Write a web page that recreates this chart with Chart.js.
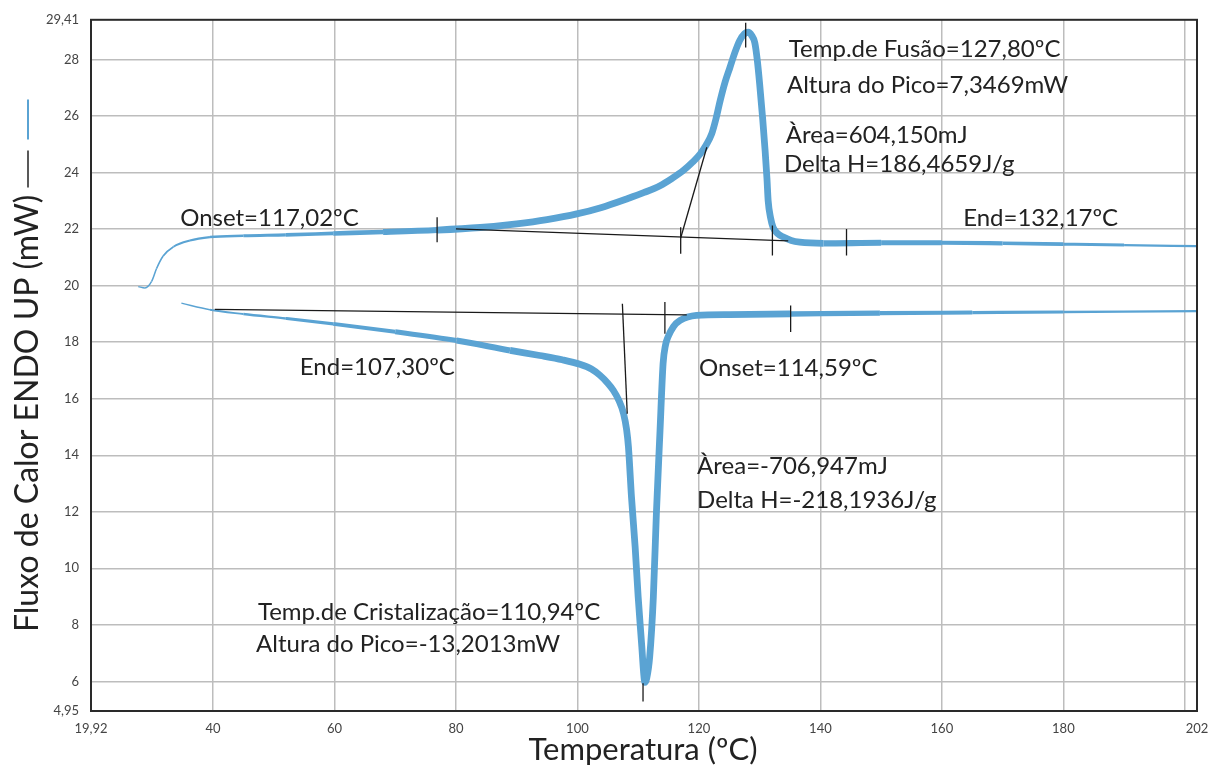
<!DOCTYPE html>
<html>
<head>
<meta charset="utf-8">
<script src="https://cdn.jsdelivr.net/npm/chart.js"></script>
<style>
  html, body { margin: 0; padding: 0; background: #fff; }
</style>
</head>
<body>
<canvas id="dsc" width="1208" height="767"></canvas>
<script>
// curva de aquecimento (fusão)
const heatT = [27.7, 28.8, 29.9, 30.7, 31.8, 33.5, 36.2, 39.5, 45, 52, 59.8, 68, 76.9, 84, 90, 95, 99.9, 104, 108.1, 111, 113.6, 115.6, 117.4, 119, 120.2, 121.2, 122.1, 122.8, 123.5, 124.3, 125.1, 126.0, 126.7, 127.5, 128.1, 128.7, 129.2, 129.6, 130.0, 130.5, 130.9, 131.2, 131.4, 131.8, 132.2, 133.0, 133.9, 135.2, 136.6, 140.5, 150, 160, 170, 180, 190, 202];
const heatV = [19.97, 19.92, 20.15, 20.6, 21.05, 21.38, 21.6, 21.72, 21.77, 21.8, 21.85, 21.9, 21.97, 22.06, 22.19, 22.34, 22.54, 22.77, 23.07, 23.3, 23.54, 23.8, 24.07, 24.38, 24.66, 24.98, 25.37, 25.9, 26.55, 27.2, 27.72, 28.3, 28.67, 28.92, 28.97, 28.85, 28.6, 28.0, 27.14, 25.9, 24.78, 23.8, 23.01, 22.4, 22.07, 21.84, 21.72, 21.6, 21.54, 21.5, 21.52, 21.52, 21.5, 21.47, 21.44, 21.4];

// curva de resfriamento (cristalização)
const coolT = [34.8, 39.5, 45, 52, 59.8, 70, 80.1, 88.9, 93.8, 97.5, 100.4, 102.3, 103.7, 105.0, 105.9, 106.8, 107.6, 108.1, 108.4, 108.9, 109.5, 110.0, 110.6, 110.9, 111.1, 111.4, 111.9, 112.5, 113.0, 113.6, 114.1, 114.5, 114.9, 115.8, 116.9, 119.6, 125, 135.0, 149.8, 165, 180, 202];
const coolV = [19.38, 19.15, 19.0, 18.84, 18.65, 18.37, 18.06, 17.71, 17.53, 17.38, 17.22, 17.05, 16.83, 16.55, 16.3, 15.95, 15.47, 14.9, 14.29, 12.52, 10.76, 8.99, 7.22, 6.3, 5.96, 6.1, 6.87, 8.99, 11.94, 14.88, 17.24, 17.9, 18.18, 18.55, 18.77, 18.95, 18.98, 19.0, 19.03, 19.05, 19.07, 19.1];

// linhas de base e tangentes [T1, T2], [V1, V2]
const baseUpT = [80.0, 134.7], baseUpV = [22.01, 21.59];
const tanUpT = [117.0, 121.3], tanUpV = [21.69, 24.9];
const baseLowT = [40.3, 118.0], baseLowV = [19.16, 18.97];
const tanLowT = [107.4, 108.2], tanLowV = [19.36, 15.47];

// marcas verticais: temperatura, valor de cima, valor de baixo
const markT = [76.9, 117.0, 132.1, 144.3, 127.7, 114.4, 135.1, 110.8];
const markTop = [22.42, 22.07, 22.13, 22.01, 29.31, 19.42, 19.3, 5.93];
const markBot = [21.54, 21.13, 21.07, 21.07, 28.43, 18.3, 18.36, 5.29];

// textos das anotações
const notes = ['Temp.de Fusão=127,80ºC', 'Altura do Pico=7,3469mW', 'Àrea=604,150mJ', 'Delta H=186,4659J/g',
  'Onset=117,02ºC', 'End=132,17ºC', 'End=107,30ºC', 'Onset=114,59ºC',
  'Àrea=-706,947mJ', 'Delta H=-218,1936J/g', 'Temp.de Cristalização=110,94ºC', 'Altura do Pico=-13,2013mW'];
const noteT = [134.8, 134.5, 134.3, 134.0, 34.6, 163.5, 54.3, 120.0, 119.7, 119.7, 47.4, 47.1];
const noteV = [28.35, 27.08, 25.34, 24.28, 22.38, 22.38, 17.11, 17.07, 13.61, 12.41, 8.45, 7.32];

// eixos
const xTicks = [19.92, 40, 60, 80, 100, 120, 140, 160, 180, 200, 202];
const yTicks = [4.95, 6, 8, 10, 12, 14, 16, 18, 20, 22, 24, 26, 28, 29.41];

const BLUE = '#5aa3d3';

// espessura da linha ao longo da curva (estilo)
const heatWT = [27, 34, 45, 60, 78, 140, 160, 185, 202];
const heatWW = [1.3, 1.8, 2.8, 4, 6.8, 6.8, 4.5, 3, 1.8];
const coolWT = [34, 42, 55, 70, 90, 130, 150, 175, 202];
const coolWW = [1, 1.8, 3, 4.5, 6.8, 6.8, 4.5, 3, 1.8];

function interp(xs, ys, x) {
  if (x <= xs[0]) return ys[0];
  for (let i = 1; i < xs.length; i++) {
    if (x <= xs[i]) {
      const f = (x - xs[i - 1]) / (xs[i] - xs[i - 1]);
      return ys[i - 1] + f * (ys[i] - ys[i - 1]);
    }
  }
  return ys[ys.length - 1];
}

function toPoints(ts, vs) {
  return ts.map((t, i) => ({ x: t, y: vs[i] }));
}

function blackLine(ts, vs) {
  return { data: toPoints(ts, vs), borderColor: '#1a1a1a', borderWidth: 1.3, pointRadius: 0, order: 0 };
}

const datasets = [
  blackLine(baseUpT, baseUpV),
  blackLine(tanUpT, tanUpV),
  blackLine(baseLowT, baseLowV),
  blackLine(tanLowT, tanLowV)
];
markT.forEach((t, i) => datasets.push(blackLine([t, t], [markTop[i], markBot[i]])));

datasets.push({
  data: toPoints(heatT, heatV), borderColor: BLUE, pointRadius: 0, order: 1,
  cubicInterpolationMode: 'monotone', borderCapStyle: 'butt', borderJoinStyle: 'round',
  segment: { borderWidth: c => interp(heatWT, heatWW, (c.p0.parsed.x + c.p1.parsed.x) / 2) }
});
datasets.push({
  data: toPoints(coolT, coolV), borderColor: BLUE, pointRadius: 0, order: 1,
  cubicInterpolationMode: 'monotone', borderCapStyle: 'butt', borderJoinStyle: 'round',
  segment: { borderWidth: c => interp(coolWT, coolWW, (c.p0.parsed.x + c.p1.parsed.x) / 2) }
});

function fmt(v) {
  return String(v).replace('.', ',');
}

const textPlugin = {
  id: 'textos',
  afterDraw(chart) {
    const ctx = chart.ctx;
    const a = chart.chartArea;
    const xs = chart.scales.x, ys = chart.scales.y;

    // moldura
    ctx.save();
    ctx.strokeStyle = '#2a2a2a';
    ctx.lineWidth = 2;
    ctx.strokeRect(a.left, a.top, a.right - a.left, a.bottom - a.top);

    // anotações
    ctx.fillStyle = '#222';
    ctx.font = '24px Lato';
    ctx.textBaseline = 'middle';
    ctx.textAlign = 'left';
    notes.forEach((n, i) => ctx.fillText(n, xs.getPixelForValue(noteT[i]), ys.getPixelForValue(noteV[i])));

    // título eixo x
    ctx.font = '31px Lato';
    ctx.textAlign = 'center';
    ctx.fillText('Temperatura (ºC)', 643, 750);

    // título eixo y com marcas da legenda
    const title = 'Fluxo de Calor ENDO UP (mW)';
    ctx.translate(28, 632);
    ctx.rotate(-Math.PI / 2);
    ctx.font = '32px Lato';
    ctx.textAlign = 'left';
    ctx.fillText(title, 0, 0);
    const w = ctx.measureText(title).width;
    ctx.strokeStyle = '#222';
    ctx.lineWidth = 1.5;
    ctx.beginPath();
    ctx.moveTo(w + 7, 0);
    ctx.lineTo(w + 44, 0);
    ctx.stroke();
    ctx.strokeStyle = BLUE;
    ctx.lineWidth = 2;
    ctx.beginPath();
    ctx.moveTo(w + 55, 0);
    ctx.lineTo(w + 95, 0);
    ctx.stroke();
    ctx.restore();
  }
};

new Chart(document.getElementById('dsc'), {
  type: 'line',
  data: { datasets: datasets },
  options: {
    responsive: false,
    animation: false,
    layout: { padding: { top: 19, right: 0, left: 0, bottom: 0 } },
    plugins: { legend: { display: false }, tooltip: { enabled: false } },
    scales: {
      x: {
        type: 'linear', min: 19.92, max: 202,
        afterBuildTicks: s => { s.ticks = xTicks.map(v => ({ value: v })); },
        afterFit: s => { s.height = 56; s.paddingRight = 11; s.paddingLeft = 0; },
        border: { display: false },
        grid: {
          drawTicks: false, lineWidth: 1.5,
          color: c => (c.tick && (c.tick.value === 19.92 || c.tick.value === 202)) ? 'rgba(0,0,0,0)' : '#bdbdbd'
        },
        ticks: {
          padding: 10, color: '#444', font: { family: 'Lato', size: 13 }, maxRotation: 0, autoSkip: false,
          callback: v => v === 200 ? '' : fmt(v)
        }
      },
      y: {
        type: 'linear', min: 4.95, max: 29.41,
        afterBuildTicks: s => { s.ticks = yTicks.map(v => ({ value: v })); },
        afterFit: s => { s.width = 91; },
        border: { display: false },
        grid: {
          drawTicks: false, lineWidth: 1.5,
          color: c => (c.tick && (c.tick.value === 4.95 || c.tick.value === 29.41)) ? 'rgba(0,0,0,0)' : '#bdbdbd'
        },
        ticks: {
          padding: 12, color: '#444', font: { family: 'Lato', size: 13 }, autoSkip: false,
          callback: v => fmt(v)
        }
      }
    }
  },
  plugins: [textPlugin]
});
</script>
</body>
</html>
